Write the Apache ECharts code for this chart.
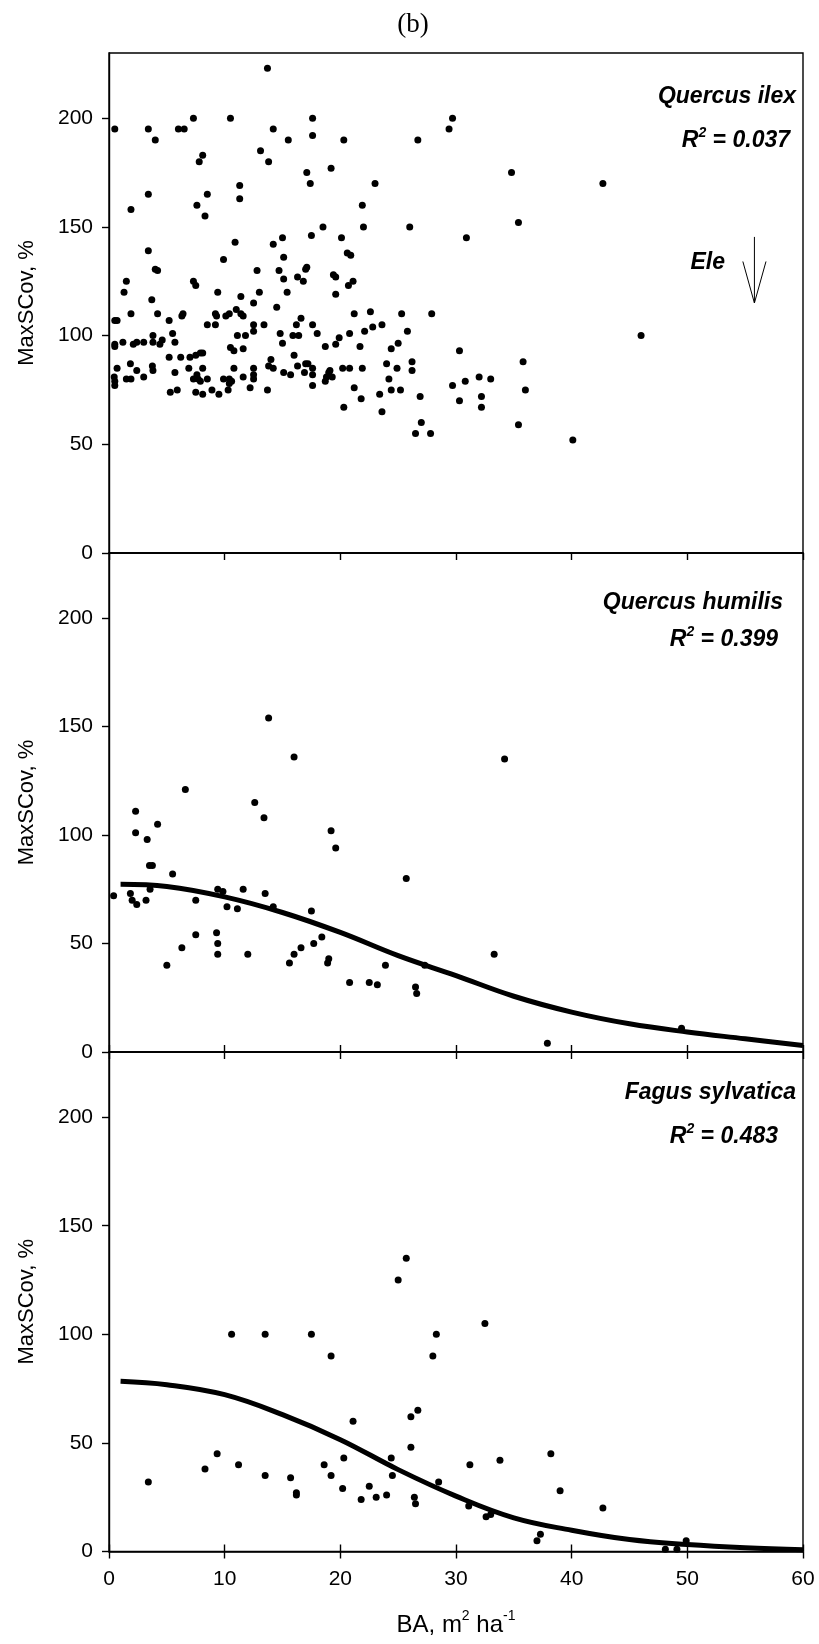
<!DOCTYPE html>
<html><head><meta charset="utf-8">
<script src="https://cdn.jsdelivr.net/npm/echarts@6/dist/echarts.min.js"></script>
<style>html,body{margin:0;padding:0;background:#fff}#c{width:819px;height:1644px}</style>
</head><body><div id="c"></div>
<script>
// ---- data ----
const xTicks = [0, 10, 20, 30, 40, 50, 60];
const yTicks = [0, 50, 100, 150, 200];
const panelNames = ['Quercus ilex', 'Quercus humilis', 'Fagus sylvatica'];
const panelR2 = ['0.037', '0.399', '0.483'];

const ilexPoints = [
[13.7,223],[0.5,195],[3.4,195],[4.0,190],[6.0,195],[6.5,195],[7.3,200],[10.5,200],[14.2,195],[15.5,190],[17.6,200],[17.6,192],[20.3,190],[13.1,185],[13.8,180],[8.1,183],[7.8,180],[17.1,175],[19.2,177],[17.4,170],[23.0,170],[11.3,169],[11.3,163],[3.4,165],[8.5,165],[1.9,158],[7.6,160],[8.3,155],[21.9,160],[18.5,150],[22.0,150],[26.0,150],[26.7,190],[29.4,195],[29.7,200],[34.8,175],[42.7,170],[35.4,152],[30.9,145],[15.0,145],[17.5,146],[20.1,145],[10.9,143],[14.2,142],[3.4,139],[15.1,136],[20.6,138],[20.9,137],[9.9,135],[4.0,130.5],[4.2,130],[12.8,130],[14.7,130],[17.0,130.5],[17.1,131.5],[16.3,127],[16.8,125],[15.1,126],[19.4,128],[19.6,127],[21.1,125],[20.7,123],[1.5,125],[7.3,125],[7.5,123],[1.3,120],[9.4,120],[13.0,120],[15.4,120],[11.4,118],[19.6,119],[3.7,116.5],
[12.5,115],[14.5,113],[11.0,112],
[1.9,110],[4.2,110],[6.4,110],[6.3,109],[9.2,110],[9.3,109],[10.1,109],[10.4,110],[11.4,110],[11.6,109],[21.2,110],[22.6,111],[25.3,110],[27.9,110],
[0.5,107],[0.7,107],[5.2,107],[12.5,105],[12.5,102],[13.4,105],[8.5,105],[9.2,105],[16.2,105],[16.6,108],[17.6,105],[22.8,104],[23.6,105],[22.1,102],[25.8,102],[20.8,101],[19.9,99],[19.6,96],[18.0,101],[14.8,101],[15.9,100],[16.4,100],[11.1,100],[11.8,100],[5.5,101],[3.8,100],[3.8,97],[0.5,96],[0.5,95],[1.2,97],[2.1,96],[2.4,97],[3.0,97],[4.4,96],[4.6,98],[5.7,97],[15.0,96.5],[18.7,95],[21.7,95],[25.0,96.5],[10.5,94.5],[10.8,93],[11.6,94],[24.4,94],[30.3,93],[16.0,91],[8.1,92],[7.9,92],[7.5,91],[7.0,90],[6.2,90],[5.2,90],[14.0,89],[13.8,86],[14.2,85],[17.0,87],[17.2,87],[16.3,86],[17.6,85],[16.9,83],[17.6,82],[15.1,83],[15.7,82],[19.1,84],[19.0,83],[20.2,85],[20.8,85],[21.9,85],[24.0,87],[24.9,85],[26.2,88],[26.2,84],[35.8,88],[0.7,85],[1.85,87],[2.4,84],[3.75,86],[3.8,84],[5.7,83],[6.9,85],[8.1,85],[7.6,82],[7.3,80],[7.7,80],[7.9,79],[8.5,80],[10.8,85],[12.5,85],[12.5,82],[12.5,80],[11.6,81],[9.9,80],[10.4,80],[10.6,79],[10.4,78],[0.45,81],[0.5,79],[0.5,77],[1.5,80],[1.9,80],[3.0,81],[18.8,81],[19.3,81],[18.7,79],[17.6,77],[24.2,80],[29.7,77],[30.8,79],[32.0,81],[33.0,80],[21.2,76],[12.2,76],[5.3,74],[5.9,75],[7.5,74],[8.1,73],[8.9,75],[9.5,73],[10.3,75],[13.7,75],[24.4,75],[25.2,75],[23.4,73],[36.0,75],[26.9,72],[32.2,72],[21.8,71],[30.3,70],[20.3,67],[32.2,67],[23.6,65],[27.0,60],[35.4,59],[26.5,55],[27.8,55],[40.1,52],[46.0,100]
];

const humilisPoints = [
[13.8,154],[16.0,136],[34.2,135],[6.6,121],[12.6,115],[13.4,108],[2.3,111],[4.2,105],[2.3,101],[3.3,98],[19.2,102],[19.6,94],[3.5,86],[3.75,86],[5.5,82],[0.4,72],[1.85,73],[2.0,70],[2.4,68],[3.2,70],[3.55,75],[7.5,70],[9.4,75],[9.85,74],[10.2,67],[11.1,66],[11.6,75],[13.5,73],[14.2,67],[17.5,65],[25.7,80],[7.5,54],[6.3,48],[5.0,40],[9.3,55],[9.4,50],[9.4,45],[12.0,45],[15.6,41],[16.0,45],[16.6,48],[17.7,50],[18.4,53],[18.9,41],[19.0,43],[20.8,32],[22.5,32],[23.2,31],[23.9,40],[26.5,30],[26.6,27],[27.3,40],[33.3,45],[37.9,4],[49.5,11]
];

const fagusPoints = [
[10.6,100],[13.5,100],[17.5,100],[28.3,100],[19.2,90],[28.0,90],[25.0,125],[25.7,135],[32.5,105],[3.4,32],[8.3,38],[9.35,45],[11.2,40],[13.5,35],[15.7,34],[16.2,27],[16.2,26],[18.6,40],[19.2,35],[20.2,29],[20.3,43],[21.1,60],[21.8,24],[22.5,30],[23.1,25],[24.0,26],[24.4,43],[24.5,35],[26.1,48],[26.1,62],[26.7,65],[26.4,25],[26.5,22],[28.5,32],[31.1,21],[31.2,40],[32.6,16],[33.0,17],[33.8,42],[37.0,5],[37.3,8],[38.2,45],[39.0,28],[42.7,20],[48.1,1],[49.1,1],[49.9,5]
];

const curveX = [1, 5, 10, 15, 20, 25, 30, 35, 40, 45, 50, 55, 60];
const humilisCurveY = [77.3, 76.3, 71.5, 64.3, 55.1, 44.4, 35.2, 25.7, 18.4, 13.0, 9.2, 6.1, 3.0];
const fagusCurveY = [78.4, 76.8, 72.2, 63.0, 51.5, 37.7, 25.5, 15.5, 9.8, 5.5, 3.2, 1.7, 0.8];

// ---- chart ----
const SANS = '"Liberation Sans", Arial, sans-serif';
const chart = echarts.init(document.getElementById('c'));

const gridDefs = [
  {top: 53, height: 500},
  {top: 553, height: 499},
  {top: 1052, height: 499.5}
];
const grids = gridDefs.map(g => ({
  left: 109, right: 16, top: g.top, height: g.height,
  show: true, borderColor: '#000', borderWidth: 1.4, backgroundColor: 'transparent'
}));

const xAxes = [];
const yAxes = [];
for (let i = 0; i < 3; i++) {
  xAxes.push({
    gridIndex: i, type: 'value', min: 0, max: 60, interval: 10, position: 'bottom',
    axisLine: {show: true, onZero: false, lineStyle: {color: '#000', width: 1.6}},
    axisTick: {show: true, inside: false, length: 7, lineStyle: {color: '#000', width: 1.4}},
    axisLabel: {show: i === 2, margin: 17, color: '#000', fontFamily: SANS, fontSize: 21,
      customValues: xTicks},
    splitLine: {show: false},
    name: i === 2 ? '{a|BA, m}{s|2}{a| ha}{s|-1}' : '',
    nameLocation: 'middle', nameGap: 58,
    nameTextStyle: {
      rich: {
        a: {fontFamily: SANS, fontSize: 24, color: '#000', lineHeight: 28, verticalAlign: 'bottom'},
        s: {fontFamily: SANS, fontSize: 14, color: '#000', lineHeight: 28, verticalAlign: 'top'}
      }
    }
  });
  if (i > 0) {
    xAxes.push({
      gridIndex: i, type: 'value', min: 0, max: 60, interval: 10, position: 'top',
      axisLine: {show: false},
      axisTick: {show: true, inside: false, length: 7, lineStyle: {color: '#000', width: 1.4}},
      axisLabel: {show: false},
      splitLine: {show: false}
    });
  }
  yAxes.push({
    gridIndex: i, type: 'value', min: 0, max: 230, interval: 50,
    axisLine: {show: true, lineStyle: {color: '#000', width: 1.4}},
    axisTick: {show: true, inside: false, length: 7, lineStyle: {color: '#000', width: 1.4},
      customValues: yTicks},
    axisLabel: {show: true, margin: 16, color: '#000', fontFamily: SANS, fontSize: 21,
      customValues: yTicks},
    splitLine: {show: false},
    name: 'MaxSCov, %', nameLocation: 'middle', nameGap: 71,
    nameTextStyle: {fontFamily: SANS, fontSize: 22, color: '#000'}
  });
}

// xAxis indices: grid0 -> 0, grid1 -> 1 (bottom), 2 (top), grid2 -> 3 (bottom), 4 (top)
const xIdx = [0, 1, 3];
const dot = {type: 'scatter', symbol: 'circle', symbolSize: 7, itemStyle: {color: '#000', opacity: 1}, z: 3};
const series = [
  Object.assign({}, dot, {xAxisIndex: xIdx[0], yAxisIndex: 0, data: ilexPoints}),
  Object.assign({}, dot, {xAxisIndex: xIdx[1], yAxisIndex: 1, data: humilisPoints}),
  Object.assign({}, dot, {xAxisIndex: xIdx[2], yAxisIndex: 2, data: fagusPoints}),
  {type: 'line', xAxisIndex: xIdx[1], yAxisIndex: 1, smooth: 0.4, symbol: 'none',
   lineStyle: {color: '#000', width: 5}, data: curveX.map((x, k) => [x, humilisCurveY[k]]), z: 4},
  {type: 'line', xAxisIndex: xIdx[2], yAxisIndex: 2, smooth: 0.4, symbol: 'none',
   lineStyle: {color: '#000', width: 5}, data: curveX.map((x, k) => [x, fagusCurveY[k]]), z: 4}
];

chart.setOption({
  animation: false,
  backgroundColor: '#fff',
  grid: grids, xAxis: xAxes, yAxis: yAxes, series: series
});

// ---- annotations ----
const labelRich = {
  r: {fontFamily: SANS, fontSize: 23, fontWeight: 'bold', fontStyle: 'italic', fill: '#000', lineHeight: 26, verticalAlign: 'bottom'},
  s: {fontFamily: SANS, fontSize: 14, fontWeight: 'bold', fontStyle: 'italic', fill: '#000', lineHeight: 26, verticalAlign: 'top'}
};
const nameFont = 'italic bold 23px ' + SANS;
const labelPos = [
  {nx: 796, ny: 97, rx: 790, ry: 139},
  {nx: 783, ny: 603, rx: 778, ry: 638},
  {nx: 796, ny: 1093, rx: 778, ry: 1135}
];
const graphics = [];
graphics.push({type: 'text', x: 413, y: 25, style: {text: '(b)', font: '27px "Liberation Serif", "Times New Roman", serif', fill: '#000', align: 'center', verticalAlign: 'middle'}});
for (let i = 0; i < 3; i++) {
  const p = labelPos[i];
  graphics.push({type: 'text', x: p.nx, y: p.ny, style: {text: panelNames[i], font: nameFont, fill: '#000', align: 'right', verticalAlign: 'middle'}});
  graphics.push({type: 'text', x: p.rx, y: p.ry, style: {text: '{r|R}{s|2}{r| = ' + panelR2[i] + '}', rich: labelRich, align: 'right', verticalAlign: 'middle'}});
}
// "Ele" arrow (elevation) in top panel, placed through the axes
const arrowTop = chart.convertToPixel({gridIndex: 0}, [55.8, 145.4]);
const arrowTip = chart.convertToPixel({gridIndex: 0}, [55.8, 115]);
const headL = chart.convertToPixel({gridIndex: 0}, [54.8, 134.1]);
const headR = chart.convertToPixel({gridIndex: 0}, [56.8, 134.1]);
graphics.push({type: 'line', shape: {x1: arrowTop[0], y1: arrowTop[1], x2: arrowTip[0], y2: arrowTip[1]}, style: {stroke: '#000', lineWidth: 1}});
graphics.push({type: 'polyline', shape: {points: [headL, arrowTip, headR]}, style: {stroke: '#000', lineWidth: 1, fill: null}});
graphics.push({type: 'text', x: 725, y: 263, style: {text: 'Ele', font: nameFont, fill: '#000', align: 'right', verticalAlign: 'middle'}});

chart.setOption({graphic: graphics});
</script>
</body></html>
